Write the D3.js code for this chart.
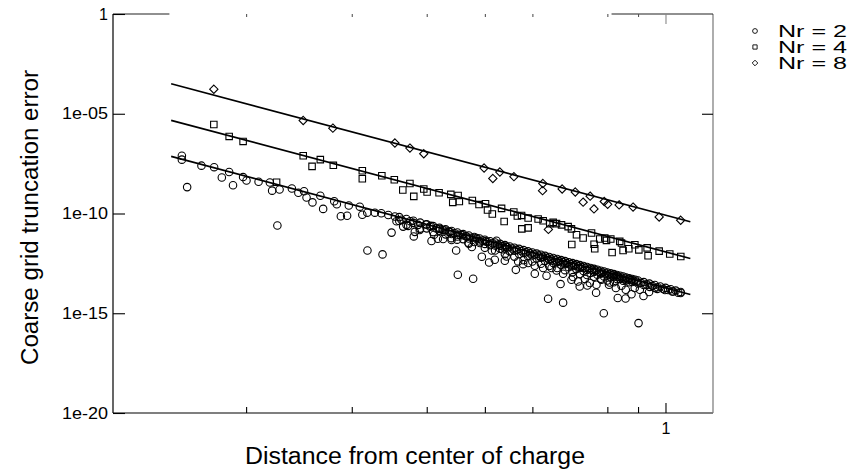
<!DOCTYPE html>
<html>
<head>
<meta charset="utf-8">
<script src="https://cdn.jsdelivr.net/npm/d3@7/dist/d3.min.js"></script>
<style>
  body { margin: 0; background: #fff; }
  text { font-family: "Liberation Sans", Arial, Helvetica, sans-serif; fill: #000; }
</style>
</head>
<body>
<svg id="chart" width="857" height="472"></svg>
<script>
// ---- data ----
const seriesNames = ["Nr = 2", "Nr = 4", "Nr = 8"];

const nr8Dist = [0.1767, 0.249, 0.279, 0.354, 0.375, 0.3955, 0.4985, 0.5296, 0.5155, 0.559, 0.6246, 0.6239,
  0.6726, 0.7074, 0.7489, 0.729, 0.760, 0.7906, 0.801, 0.837, 0.883, 0.976, 1.060, 0.638];
const nr8Err = [1.7e-4, 4.6e-6, 1.9e-6, 3.4e-7, 1.9e-7, 9.9e-8, 1.9e-8, 1.2e-8, 5.7e-9, 7.0e-9, 3.2e-9, 1.4e-9,
  1.7e-9, 1.2e-9, 7.4e-10, 3.7e-10, 1.7e-10, 4.0e-10, 2.9e-10, 2.7e-10, 2.1e-10, 6.7e-11, 4.6e-11, 1.6e-11];

const nr4Dist = [0.1767, 0.1874, 0.1977, 0.2248, 0.249, 0.2576, 0.2659, 0.2795, 0.3124, 0.3124, 0.3367, 0.3532,
  0.3649, 0.375, 0.3806, 0.3955, 0.4006, 0.4194, 0.4387, 0.442, 0.4533, 0.4512, 0.4765, 0.4889, 0.5012, 0.5051,
  0.5145, 0.5331, 0.5384, 0.5587, 0.5664, 0.5756, 0.5903, 0.5762, 0.5903, 0.6134, 0.6253, 0.6414, 0.6582, 0.671,
  0.6882, 0.6971, 0.7107, 0.729, 0.6979, 0.7529, 0.7603, 0.7622, 0.777, 0.7921, 0.8106, 0.839, 0.8147, 0.8498,
  0.8687, 0.889, 0.9028, 0.9354, 0.932, 0.976, 1.0165, 1.0604, 0.6498, 0.7973, 0.8446];
const nr4Err = [2.9e-6, 7.3e-7, 4.1e-7, 3.7e-9, 7.9e-8, 2.3e-8, 5.0e-8, 2.6e-8, 1.4e-8, 5.5e-9, 7.8e-9, 4.9e-9,
  1.5e-9, 3.2e-9, 7.2e-10, 1.7e-9, 1.2e-9, 1.1e-9, 9.1e-10, 3.6e-10, 4.0e-10, 8.0e-10, 4.5e-10, 2.8e-10, 3.1e-10, 1.5e-10,
  9.4e-11, 1.8e-10, 4.0e-11, 1.2e-10, 7.5e-11, 8.0e-11, 5.9e-11, 1.7e-11, 1.9e-11, 5.3e-11, 4.3e-11, 3.1e-11, 3.1e-11, 2.7e-11,
  2.2e-11, 1.7e-11, 8.6e-12, 5.9e-12, 2.8e-12, 1.05e-11, 2.9e-12, 1.7e-12, 5.3e-12, 5.9e-12, 5.3e-12, 4.0e-12, 1.1e-12, 1.4e-12,
  1.7e-12, 2.7e-12, 1.5e-12, 7.6e-13, 1.9e-12, 1.3e-12, 9.4e-13, 7.0e-13, 3.6e-11, 4.5e-12, 3.3e-12];

const nr2Dist = [0.1563, 0.1563, 0.1685, 0.1769, 0.1874, 0.1822, 0.1595, 0.1902, 0.1977, 0.2003, 0.2098, 0.2191,
  0.221, 0.2274, 0.2384, 0.2444, 0.2498, 0.2522, 0.258, 0.2255, 0.2659, 0.2688, 0.2805, 0.2833, 0.2877, 0.2947,
  0.2966, 0.3094, 0.3124, 0.3184, 0.3278, 0.336, 0.3452, 0.354, 0.3562, 0.3495, 0.3186, 0.3376, 0.3631, 0.3654,
  0.3724, 0.3753, 0.3806, 0.3821, 0.3894, 0.3869, 0.3986, 0.4063, 0.4074, 0.4114, 0.4206, 0.426, 0.4174, 0.4287,
  0.437, 0.4398, 0.4478, 0.4495, 0.4512, 0.4593, 0.466, 0.4693, 0.4756, 0.4843, 0.4904, 0.4942, 0.5018, 0.5082,
  0.5135, 0.5194, 0.5229, 0.5296, 0.5351, 0.5398, 0.5429, 0.5434, 0.4507, 0.478, 0.5631, 0.6056, 0.6335, 0.6373,
  0.6685, 0.6751, 0.6971, 0.7195, 0.7409, 0.7662, 0.7891, 0.805, 0.8327, 0.858, 0.8777, 0.9017, 0.919, 0.939,
  0.969, 0.998, 1.0264, 1.06, 0.5681, 0.5791, 0.5903, 0.6056, 0.6253, 0.6458, 0.6582, 0.6751, 0.7013, 0.7151,
  0.7338, 0.748, 0.7672, 0.782, 0.8075, 0.8265, 0.8446, 0.8587, 0.8887, 0.9062, 0.9411,
  0.36, 0.36, 0.37, 0.37, 0.38, 0.38, 0.39, 0.39, 0.40, 0.40, 0.41, 0.41, 0.42, 0.42, 0.43, 0.43,
  0.44, 0.44, 0.44, 0.45, 0.45, 0.46, 0.46, 0.47, 0.47, 0.47, 0.48, 0.48, 0.49, 0.49, 0.50, 0.50, 0.50,
  0.51, 0.51, 0.52, 0.52, 0.52, 0.53, 0.53, 0.54, 0.54, 0.54, 0.55, 0.55, 0.56, 0.56, 0.56, 0.57, 0.57,
  0.58, 0.58, 0.58, 0.59, 0.59, 0.60, 0.60, 0.60, 0.61, 0.61, 0.62, 0.62, 0.62, 0.63, 0.63, 0.64, 0.64, 0.64,
  0.65, 0.65, 0.66, 0.66, 0.66, 0.67, 0.67, 0.68, 0.68, 0.68, 0.69, 0.69, 0.70, 0.70, 0.70, 0.71, 0.71,
  0.72, 0.72, 0.72, 0.73, 0.73, 0.74, 0.74, 0.74, 0.75, 0.75, 0.76, 0.76, 0.76, 0.77, 0.77, 0.78, 0.78, 0.78,
  0.79, 0.79, 0.80, 0.80, 0.80, 0.81, 0.81, 0.82, 0.82, 0.82, 0.83, 0.83, 0.84, 0.84, 0.85, 0.85, 0.86, 0.86,
  0.87, 0.87, 0.88, 0.88, 0.89, 0.90, 0.90, 0.92, 0.92, 0.94, 0.96, 0.96, 0.98, 1.00, 1.02, 1.04, 1.06];
const nr2Err = [7.9e-8, 5.0e-8, 2.5e-8, 2.1e-8, 1.2e-8, 6.4e-9, 2.1e-9, 2.6e-9, 6.7e-9, 4.5e-9, 3.9e-9, 3.6e-9,
  1.4e-9, 1.6e-9, 1.8e-9, 1.1e-9, 1.3e-9, 6.3e-10, 3.6e-10, 2.5e-11, 7.8e-10, 1.7e-10, 4.1e-10, 2.9e-10, 7.3e-11, 7.7e-11,
  2.5e-10, 2.2e-10, 8.7e-11, 1.1e-10, 1.1e-10, 1.03e-10, 8.4e-11, 7.1e-11, 4.1e-11, 1.1e-11, 1.4e-12, 8.9e-13, 4.9e-11, 2.2e-11,
  2.4e-11, 4.1e-11, 7.1e-12, 1.2e-11, 1.5e-11, 2.7e-11, 2.8e-11, 2.4e-11, 4.2e-12, 8.6e-12, 1.7e-11, 5.3e-12, 5.4e-12, 1.4e-11,
  1.2e-11, 5.8e-12, 1.4e-12, 4.9e-12, 8.6e-12, 8.1e-12, 7.1e-12, 3.4e-12, 2.1e-12, 5.9e-12, 3.3e-12, 6.8e-13, 4.0e-12, 3.5e-13,
  1.4e-12, 4.8e-13, 4.3e-12, 2.4e-12, 1.6e-12, 4.3e-13, 2.2e-12, 7.0e-13, 8.5e-14, 5.4e-14, 1.5e-13, 9.6e-14, 7.6e-14, 5.3e-15,
  2.9e-14, 3.4e-15, 4.8e-14, 2.2e-14, 2.45e-14, 1.07e-14, 1.0e-15, 2.7e-14, 5.8e-15, 5.5e-15, 9.0e-15, 3.2e-16, 7.3e-15, 1.17e-14,
  1.66e-14, 1.46e-14, 1.24e-14, 1.03e-14, 3.96e-13, 2.9e-13, 3.3e-13, 2.4e-13, 1.85e-13, 1.85e-13, 1.4e-13, 9.6e-14, 6.5e-14, 3.9e-14,
  5.2e-14, 3.3e-14, 2.7e-14, 4.8e-14, 3.5e-14, 1.84e-14, 2.4e-14, 1.5e-14, 1.84e-14, 1.5e-14, 2.1e-14,
  6.6e-11, 4.2e-11, 5.3e-11, 2.7e-11, 4.3e-11, 3.4e-11, 3.5e-11, 1.75e-11, 2.85e-11, 1.8e-11, 2.34e-11, 1.17e-11, 1.93e-11, 1.37e-11, 1.6e-11, 9.0e-12,
  1.33e-11, 9.4e-12, 4.7e-12, 1.11e-11, 7.0e-12, 9.3e-12, 5.2e-12, 7.85e-12, 5.6e-12, 3.1e-12, 6.6e-12, 3.7e-12, 5.6e-12, 4.0e-12, 4.8e-12, 3.0e-12, 1.9e-12,
  4.1e-12, 2.6e-12, 3.5e-12, 2.5e-12, 1.4e-12, 3.0e-12, 1.7e-12, 2.6e-12, 1.8e-12, 9.2e-13, 2.23e-12, 1.26e-12, 1.93e-12, 1.37e-12, 6.9e-13, 1.68e-12, 9.4e-13,
  1.46e-12, 1.04e-12, 4.6e-13, 1.27e-12, 7.2e-13, 1.11e-12, 7.9e-13, 3.9e-13, 9.75e-13, 5.5e-13, 8.6e-13, 6.1e-13, 3.0e-13, 7.5e-13, 4.2e-13, 6.6e-13, 4.7e-13, 2.35e-13,
  5.9e-13, 3.3e-13, 5.2e-13, 3.7e-13, 1.85e-13, 4.6e-13, 2.6e-13, 4.1e-13, 2.9e-13, 1.45e-13, 3.6e-13, 2.05e-13, 3.24e-13, 2.3e-13, 1.15e-13, 2.9e-13, 1.63e-13,
  2.6e-13, 1.84e-13, 9.2e-14, 2.32e-13, 1.3e-13, 2.08e-13, 1.47e-13, 8.3e-14, 1.87e-13, 1.05e-13, 1.68e-13, 1.19e-13, 6.7e-14, 1.51e-13, 8.5e-14, 1.36e-13, 9.7e-14, 5.4e-14,
  1.23e-13, 6.9e-14, 1.11e-13, 7.9e-14, 4.4e-14, 1.01e-13, 6.4e-14, 9.2e-14, 6.5e-14, 3.6e-14, 8.3e-14, 5.2e-14, 7.55e-14, 5.3e-14, 6.9e-14, 4.3e-14, 6.25e-14, 4.4e-14,
  5.7e-14, 3.6e-14, 5.2e-14, 3.7e-14, 4.75e-14, 4.35e-14, 3.1e-14, 3.65e-14, 2.6e-14, 3.07e-14, 2.6e-14, 1.84e-14, 2.2e-14, 1.87e-14, 1.6e-14, 1.37e-14, 1.17e-14];

// the crowded band of Nr = 2 points lying just on / under the fit line
const nr2BandDist = [0.405, 0.415, 0.425, 0.435, 0.445, 0.455, 0.465, 0.475, 0.485, 0.495, 0.505, 0.515, 0.525,
  0.535, 0.545, 0.555, 0.565, 0.575, 0.585, 0.595, 0.605, 0.615, 0.625, 0.635, 0.645, 0.655, 0.665, 0.675,
  0.685, 0.695, 0.705, 0.715, 0.725, 0.735, 0.745, 0.755, 0.765, 0.775, 0.785, 0.795, 0.805, 0.815, 0.825,
  0.835, 0.845, 0.855, 0.865, 0.875, 0.885, 0.895, 0.91, 0.93, 0.95, 0.97, 0.99, 1.01, 1.03, 1.05];
const nr2BandErr = [2.17e-11, 1.79e-11, 1.48e-11, 1.23e-11, 1.02e-11, 8.6e-12, 7.2e-12, 6.1e-12, 5.1e-12, 4.4e-12,
  3.7e-12, 3.2e-12, 2.73e-12, 2.34e-12, 2.02e-12, 1.75e-12, 1.51e-12, 1.32e-12, 1.15e-12, 1.0e-12, 8.75e-13, 7.7e-13,
  6.8e-13, 5.9e-13, 5.25e-13, 4.65e-13, 4.1e-13, 3.65e-13, 3.24e-13, 2.9e-13, 2.58e-13, 2.3e-13, 2.06e-13, 1.85e-13,
  1.66e-13, 1.49e-13, 1.34e-13, 1.21e-13, 1.09e-13, 9.9e-14, 8.9e-14, 8.1e-14, 7.3e-14, 6.7e-14, 6.05e-14, 5.5e-14,
  5.0e-14, 4.6e-14, 4.2e-14, 3.8e-14, 3.35e-14, 2.8e-14, 2.37e-14, 2.0e-14, 1.7e-14, 1.45e-14, 1.24e-14, 1.07e-14];

// fitted power-law lines, end points
const fitDist = [0.15, 1.1];
const fit2Err = [7.28e-8, 8.7e-15];
const fit4Err = [4.65e-6, 5.56e-13];
const fit8Err = [3.2e-4, 3.84e-11];

const xDomain = [0.12, 1.2];
const yDomain = [1e-20, 1];
const xMinorTicks = [0.2, 0.3, 0.4, 0.5, 0.6, 0.8, 0.9];
const xMajorTicks = [1];
const yTicks = [1, 1e-5, 1e-10, 1e-15, 1e-20];
const yTickLabels = ["1", "1e-05", "1e-10", "1e-15", "1e-20"];
const rightTicks = [1e-5, 1e-15];
const topFrameParts = [[0.12, 0.149], [0.813, 1.2]];

// ---- layout ----
const svg = d3.select("#chart");
const margin = { top: 14, right: 144, bottom: 59, left: 113 };
const width = 857 - margin.left - margin.right;   // 600
const height = 472 - margin.top - margin.bottom;  // 399

const x = d3.scaleLog().domain(xDomain).range([0, width]);
const y = d3.scaleLog().domain(yDomain).range([height, 0]);

const g = svg.append("g").attr("transform", `translate(${margin.left},${margin.top})`);

// frame
g.append("line").attr("x1", 0).attr("x2", 0).attr("y1", 0).attr("y2", height)
  .attr("stroke", "#000").attr("stroke-width", 1.2);
g.append("line").attr("x1", 0).attr("x2", width).attr("y1", height).attr("y2", height)
  .attr("stroke", "#000").attr("stroke-width", 1.2);
g.append("line").attr("x1", width).attr("x2", width).attr("y1", 0).attr("y2", height)
  .attr("stroke", "#777").attr("stroke-width", 1.2);
topFrameParts.forEach(p => {
  g.append("line").attr("x1", x(p[0])).attr("x2", x(p[1])).attr("y1", 0).attr("y2", 0)
    .attr("stroke", "#222").attr("stroke-width", 1.2);
});

// axes
const fmtY = d => yTickLabels[yTicks.indexOf(d)];
const left = g.append("g").call(d3.axisLeft(y).tickValues(yTicks).tickSize(-12).tickPadding(5).tickFormat(fmtY));
const right = g.append("g").attr("transform", `translate(${width},0)`)
  .call(d3.axisRight(y).tickValues(rightTicks).tickSize(-11).tickFormat(""));
const bottomMinor = g.append("g").attr("transform", `translate(0,${height})`)
  .call(d3.axisBottom(x).tickValues(xMinorTicks).tickSize(-6).tickFormat(""));
const bottomMajor = g.append("g").attr("transform", `translate(0,${height})`)
  .call(d3.axisBottom(x).tickValues(xMajorTicks).tickSize(-10).tickPadding(10).tickFormat(d3.format("d")));
const topMinor = g.append("g")
  .call(d3.axisTop(x).tickValues(xMinorTicks).tickSize(-3).tickFormat(""));
const topMajor = g.append("g")
  .call(d3.axisTop(x).tickValues(xMajorTicks).tickSize(-10).tickFormat(""));

[left, right, bottomMinor, bottomMajor, topMinor, topMajor].forEach(a => {
  a.select(".domain").remove();
  a.selectAll(".tick line").attr("stroke", "#000").attr("stroke-width", 1.1);
  a.selectAll(".tick text").attr("font-size", 16).attr("font-family", "Liberation Sans, Arial, sans-serif");
});
// the tick labels are drawn a little wide in the original
left.selectAll(".tick text").filter(d => d !== 1)
  .attr("textLength", 46).attr("lengthAdjust", "spacingAndGlyphs");
topMinor.selectAll(".tick line").attr("stroke", "#555");
topMajor.selectAll(".tick line").attr("stroke", "#888");

// axis titles
svg.append("text").attr("x", margin.left + width / 2 + 2).attr("y", 464)
  .attr("text-anchor", "middle").attr("font-size", 23)
  .attr("textLength", 340).attr("lengthAdjust", "spacingAndGlyphs")
  .text("Distance from center of charge");
svg.append("text").attr("transform", `translate(38,${margin.top + height / 2 + 4}) rotate(-90)`)
  .attr("text-anchor", "middle").attr("font-size", 23)
  .attr("textLength", 295).attr("lengthAdjust", "spacingAndGlyphs")
  .text("Coarse grid truncation error");

// fit lines
const line = d3.line().x(d => x(d[0])).y(d => y(d[1]));
[fit2Err, fit4Err, fit8Err].forEach(f => {
  g.append("path").datum(fitDist.map((d, i) => [d, f[i]]))
    .attr("d", line).attr("fill", "none").attr("stroke", "#000").attr("stroke-width", 1.7);
});

// markers
const circleSym = d3.symbol().type(d3.symbolCircle).size(44);
const squareSym = d3.symbol().type(d3.symbolSquare).size(42);
const diamondSym = d3.symbol().type(d3.symbolDiamond2).size(44);

function drawSeries(dist, err, sym) {
  g.append("g").selectAll("path").data(dist.map((d, i) => [d, err[i]])).join("path")
    .attr("transform", d => `translate(${x(d[0])},${y(d[1])})`)
    .attr("d", sym)
    .attr("fill", "none").attr("stroke", "#000").attr("stroke-width", 1.1);
}
drawSeries(nr2Dist, nr2Err, circleSym);
drawSeries(nr2BandDist, nr2BandErr, circleSym);
drawSeries(nr4Dist, nr4Err, squareSym);
drawSeries(nr8Dist, nr8Err, diamondSym);

// legend
const legendSyms = [d3.symbol().type(d3.symbolCircle).size(18),
                    d3.symbol().type(d3.symbolSquare).size(18),
                    d3.symbol().type(d3.symbolDiamond2).size(20)];
const legend = svg.append("g").attr("transform", "translate(755,31)");
seriesNames.forEach((name, i) => {
  const row = legend.append("g").attr("transform", `translate(0,${i * 16})`);
  row.append("path").attr("d", legendSyms[i]).attr("fill", "none").attr("stroke", "#000").attr("stroke-width", 0.9);
  row.append("text").attr("x", 23).attr("y", 0).attr("dy", "0.36em").attr("font-size", 16)
    .attr("textLength", 69).attr("lengthAdjust", "spacingAndGlyphs").text(name);
});
</script>
</body>
</html>
